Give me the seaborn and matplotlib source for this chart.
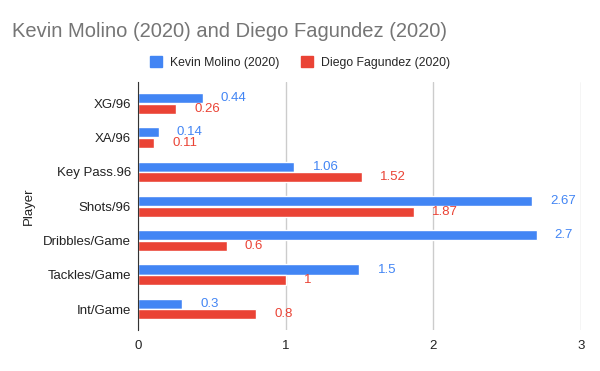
import matplotlib.pyplot as plt
import pandas as pd
import seaborn as sns

stats = ["XG/96", "XA/96", "Key Pass.96", "Shots/96", "Dribbles/Game", "Tackles/Game", "Int/Game"]
molino = [0.44, 0.14, 1.06, 2.67, 2.7, 1.5, 0.3]
fagundez = [0.26, 0.11, 1.52, 1.87, 0.6, 1, 0.8]
players = ["Kevin Molino (2020)", "Diego Fagundez (2020)"]
colors = ["#4285F4", "#EA4335"]

df = pd.DataFrame({
    "Player": stats * 2,
    "Value": molino + fagundez,
    "Series": [players[0]] * len(stats) + [players[1]] * len(stats),
})

sns.set_style("white")
plt.rcParams["font.family"] = ["Liberation Sans", "DejaVu Sans"]

fig = plt.figure(figsize=(6, 3.71), dpi=100)
ax = fig.add_axes([0.23, 0.11, 0.738, 0.668])
sns.barplot(data=df, y="Player", x="Value", hue="Series", palette=colors,
            orient="h", width=0.62, gap=0.05, saturation=1, ax=ax, legend=False)

for cont, col in zip(ax.containers, colors):
    labels = ["{:g}".format(v) for v in cont.datavalues]
    ax.bar_label(cont, labels=labels, padding=13, color=col, fontsize=9.5)

ax.set_xlim(0, 3)
ax.set_ylim(len(stats) - 0.385, -0.615)
ax.set_xticks([0, 1, 2, 3])
ax.set_xticklabels(["0", "1", "2", "3"])
ax.grid(axis="x", color="#cccccc", linewidth=1)
ax.set_axisbelow(True)
for s in ["top", "right", "bottom"]:
    ax.spines[s].set_visible(False)
ax.spines["left"].set_color("#333333")
ax.tick_params(axis="y", length=0, labelsize=9.5, colors="#222222", pad=5)
ax.tick_params(axis="x", length=0, labelsize=9.5, colors="#222222", pad=7)
ax.set_xlabel("")
ax.set_ylabel("Player", fontsize=9.5, color="#222222", labelpad=6)

fig.text(0.02, 0.915, "Kevin Molino (2020) and Diego Fagundez (2020)",
         fontsize=14.5, color="#757575", va="center")

handles = [plt.Rectangle((0, 0), 1, 1, color=c) for c in colors]
fig.legend(handles, players, loc="center", bbox_to_anchor=(0.5, 0.832), ncol=2,
           frameon=False, fontsize=8.8, handlelength=1.0, handleheight=1.0,
           columnspacing=1.8, handletextpad=0.6)

fig.savefig("out.png", dpi=100)
